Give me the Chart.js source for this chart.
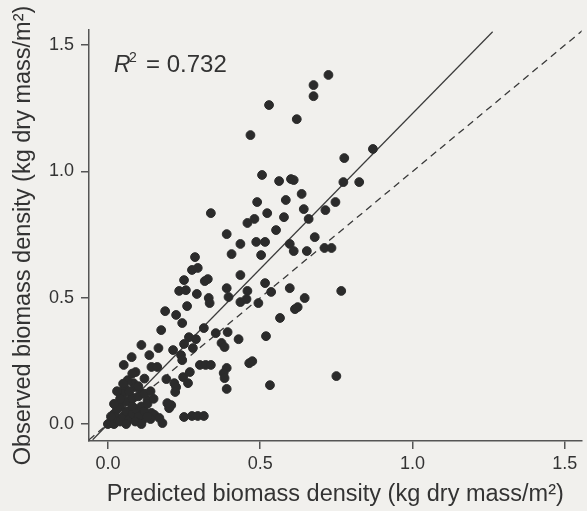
<!DOCTYPE html>
<html>
<head>
<meta charset="utf-8">
<script src="https://cdn.jsdelivr.net/npm/chart.js@4"></script>
<style>
  html, body { margin: 0; padding: 0; background: #f1f0ed; }
  #wrap { width: 587px; height: 511px; }
</style>
</head>
<body>
<div id="wrap"><canvas id="chart" width="587" height="511"></canvas></div>
<script>
// predicted (x) and observed (y) biomass density, kg dry mass / m2
let predicted = [
  0.724, 0.675, 0.675, 0.529, 0.620, 0.468, 0.870, 0.776, 0.506, 0.562,
  0.601, 0.610, 0.773, 0.825, 0.490, 0.584, 0.636, 0.747, 0.643, 0.523,
  0.714, 0.481, 0.578, 0.659, 0.338, 0.458, 0.552, 0.390, 0.435, 0.487,
  0.516, 0.597, 0.679, 0.610, 0.503, 0.653, 0.711, 0.734, 0.406, 0.286,
  0.276, 0.295, 0.435, 0.250, 0.318, 0.328, 0.516, 0.597, 0.766, 0.458,
  0.536, 0.234, 0.256, 0.390, 0.292, 0.396, 0.331, 0.334, 0.435, 0.455,
  0.494, 0.646, 0.614, 0.623, 0.260, 0.188, 0.565, 0.224, 0.244, 0.315,
  0.175, 0.354, 0.393, 0.519, 0.429, 0.266, 0.289, 0.110, 0.166, 0.250,
  0.279, 0.373, 0.383, 0.214, 0.136, 0.078, 0.240, 0.244, 0.052, 0.143,
  0.162, 0.302, 0.321, 0.338, 0.464, 0.474, 0.390, 0.750, 0.269, 0.247,
  0.263, 0.380, 0.383, 0.218, 0.224, 0.221, 0.390, 0.532, 0.208, 0.201,
  0.250, 0.276, 0.295, 0.315, 0.179, 0.143, 0.153, 0.110, 0.114, 0.091,
  0.192, 0.084, 0.091, 0.055, 0.195, 0.169, 0.130, 0.110, 0.065, 0.078,
  0.00, 0.01, 0.02, 0.03, 0.02, 0.04, 0.05, 0.06, 0.04, 0.07,
  0.08, 0.09, 0.06, 0.10, 0.11, 0.08, 0.12, 0.13, 0.10, 0.14,
  0.05, 0.03, 0.07, 0.12, 0.09, 0.01, 0.06, 0.15, 0.11, 0.04,
  0.08, 0.13, 0.02, 0.10, 0.05, 0.12, 0.08, 0.03, 0.14
];
let observed = [
  1.382, 1.342, 1.298, 1.263, 1.207, 1.144, 1.089, 1.053, 0.986, 0.962,
  0.970, 0.966, 0.958, 0.958, 0.879, 0.887, 0.911, 0.879, 0.851, 0.835,
  0.847, 0.812, 0.819, 0.812, 0.835, 0.796, 0.768, 0.752, 0.713, 0.721,
  0.721, 0.713, 0.740, 0.685, 0.669, 0.685, 0.697, 0.697, 0.673, 0.661,
  0.610, 0.618, 0.590, 0.570, 0.566, 0.574, 0.558, 0.538, 0.527, 0.527,
  0.523, 0.527, 0.530, 0.538, 0.515, 0.503, 0.499, 0.479, 0.483, 0.495,
  0.479, 0.499, 0.455, 0.463, 0.467, 0.447, 0.420, 0.432, 0.400, 0.380,
  0.372, 0.360, 0.364, 0.348, 0.336, 0.344, 0.336, 0.313, 0.301, 0.317,
  0.301, 0.321, 0.305, 0.293, 0.273, 0.265, 0.273, 0.253, 0.234, 0.226,
  0.226, 0.234, 0.234, 0.234, 0.241, 0.249, 0.222, 0.190, 0.206, 0.186,
  0.162, 0.202, 0.182, 0.162, 0.146, 0.127, 0.139, 0.154, 0.075, 0.063,
  0.028, 0.032, 0.032, 0.032, 0.004, 0.044, 0.036, 0.044, 0.016, 0.206,
  0.178, 0.162, 0.146, 0.143, 0.083, 0.024, 0.095, 0.123, 0.174, 0.107,
  0.00, 0.01, 0.00, 0.02, 0.04, 0.01, 0.03, 0.05, 0.07, 0.02,
  0.04, 0.06, 0.09, 0.03, 0.07, 0.10, 0.05, 0.08, 0.11, 0.02,
  0.12, 0.06, 0.13, 0.12, 0.01, 0.03, 0.00, 0.10, 0.00, 0.10,
  0.07, 0.03, 0.08, 0.15, 0.16, 0.18, 0.20, 0.13, 0.13
];

// fitted regression line and 1:1 line end points
let fitX = [-0.05, 1.263];
let fitY = [-0.062, 1.553];
let oneToOneX = [-0.062, 1.56];
let oneToOneY = [-0.062, 1.56];

let xTicks = [0, 0.5, 1.0, 1.5];
let yTicks = [0, 0.5, 1.0, 1.5];

let fontFamily = "'Liberation Sans', Arial, Helvetica, sans-serif";
let inkColor = "#2b2b2b";
let axisColor = "#555";

let points = predicted.map((x, i) => ({ x: x, y: observed[i] }));
let fitPoints = fitX.map((x, i) => ({ x: x, y: fitY[i] }));
let linePoints = oneToOneX.map((x, i) => ({ x: x, y: oneToOneY[i] }));

const paperBg = {
  id: "paperBg",
  beforeDraw(chart) {
    let ctx = chart.ctx;
    ctx.save();
    ctx.fillStyle = "#f1f0ed";
    ctx.fillRect(0, 0, chart.width, chart.height);
    ctx.restore();
  },
};

const rSquared = {
  id: "rSquared",
  afterDraw(chart) {
    let ctx = chart.ctx;
    ctx.save();
    ctx.fillStyle = "#333";
    ctx.textBaseline = "alphabetic";
    ctx.font = "italic 23px " + fontFamily;
    ctx.fillText("R", 114, 72);
    ctx.font = "14px " + fontFamily;
    ctx.fillText("2", 129, 62);
    ctx.font = "24px " + fontFamily;
    ctx.fillText("= 0.732", 146, 72);
    ctx.restore();
  },
};

new Chart(document.getElementById("chart"), {
  type: "scatter",
  data: {
    datasets: [
      {
        data: points,
        backgroundColor: inkColor,
        borderColor: inkColor,
        pointRadius: 4.4,
        pointHoverRadius: 4.4,
        order: 1,
      },
      {
        type: "line",
        data: fitPoints,
        borderColor: "#3a3a3a",
        borderWidth: 1.2,
        pointRadius: 0,
        order: 2,
      },
      {
        type: "line",
        data: linePoints,
        borderColor: "#3a3a3a",
        borderWidth: 1.3,
        borderDash: [7, 5],
        pointRadius: 0,
        order: 2,
      },
    ],
  },
  options: {
    responsive: false,
    animation: false,
    layout: { padding: { top: 30, right: 0, left: 0, bottom: 0 } },
    plugins: {
      legend: { display: false },
      tooltip: { enabled: false },
    },
    scales: {
      x: {
        type: "linear",
        min: -0.062,
        max: 1.555,
        afterBuildTicks: (axis) => {
          axis.ticks = xTicks.map((v) => ({ value: v }));
        },
        afterFit: (axis) => {
          axis.height = 70;
        },
        ticks: {
          callback: (v) => v.toFixed(1),
          font: { family: fontFamily, size: 18 },
          color: "#333",
          padding: 4,
          maxRotation: 0,
        },
        grid: {
          drawOnChartArea: false,
          tickLength: 8,
          color: axisColor,
          lineWidth: 1.5,
        },
        border: { color: axisColor, width: 1.5 },
        title: {
          display: true,
          text: "Predicted biomass density (kg dry mass/m²)",
          font: { family: fontFamily, size: 23.5 },
          color: "#333",
          padding: { top: 0, bottom: 2 },
        },
      },
      y: {
        type: "linear",
        min: -0.067,
        max: 1.56,
        afterBuildTicks: (axis) => {
          axis.ticks = yTicks.map((v) => ({ value: v }));
        },
        afterFit: (axis) => {
          axis.width = 89;
        },
        ticks: {
          callback: (v) => v.toFixed(1),
          font: { family: fontFamily, size: 18 },
          color: "#333",
          padding: 7,
        },
        grid: {
          drawOnChartArea: false,
          tickLength: 8,
          color: axisColor,
          lineWidth: 1.5,
        },
        border: { color: axisColor, width: 1.5 },
        title: {
          display: true,
          text: "Observed biomass density (kg dry mass/m²)",
          font: { family: fontFamily, size: 23.5 },
          color: "#333",
          padding: { top: 9, bottom: 0 },
        },
      },
    },
  },
  plugins: [paperBg, rSquared],
});
</script>
</body>
</html>
